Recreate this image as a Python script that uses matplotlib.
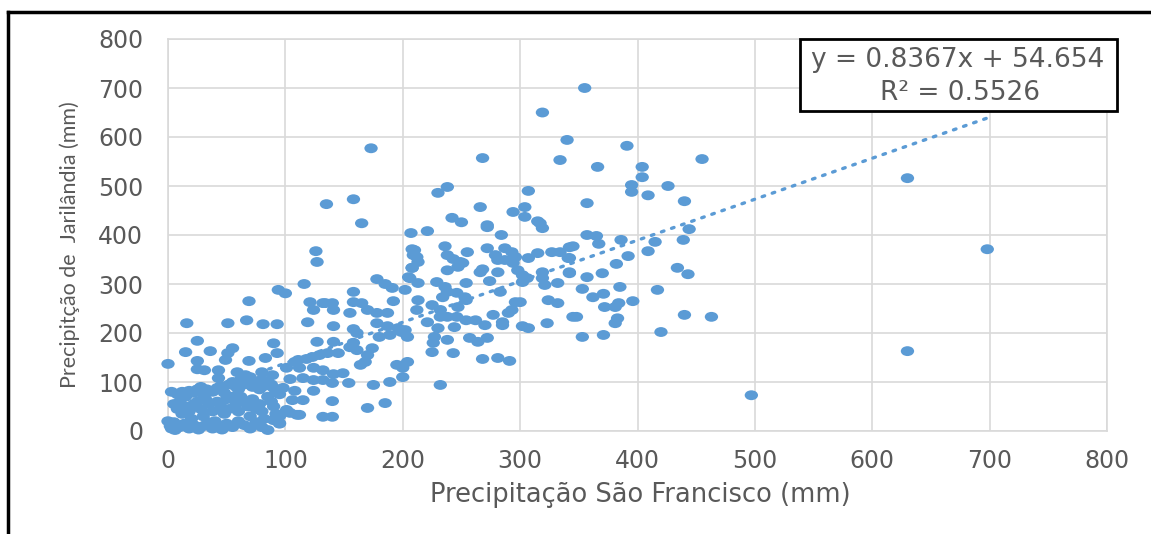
import matplotlib
matplotlib.use("Agg")
import matplotlib.pyplot as plt
from matplotlib.path import Path
from matplotlib.patches import Rectangle
from matplotlib.lines import Line2D
import numpy as np

# ---------------- data ----------------
sao_francisco = [
    # upper points
    355, 319, 340, 173, 268, 391, 455, 366, 404, 334, 404, 426, 395, 395, 409, 440, 357,
    238, 230, 307, 266, 304, 294, 304, 315, 242, 250, 272,
    135, 158, 165, 207, 126, 127, 208, 209, 208, 205, 178, 185, 191, 202, 158, 116, 94, 100,
    69, 121, 134, 140, 158, 165, 192,
    # right outliers
    630, 630, 698, 497,
    # middle band
    221, 272, 284, 317, 319, 210, 212, 213, 236, 238, 243, 249, 251, 255, 272, 279, 287, 293,
    296, 281, 287, 294, 307, 315, 327, 334, 342, 341, 208, 206, 213, 229, 238, 247, 254, 266, 268,
    274, 281, 298, 302, 302, 306, 319, 319, 321, 332, 342, 236, 238, 234, 246, 253, 254, 283,
    296, 300, 324, 332, 213, 212, 225, 232, 247, 246, 232, 238, 221, 230, 244, 254, 262, 270,
    277, 285, 285, 290, 293, 302, 307, 323, 345, 202, 227, 238, 257, 264, 272, 226, 225, 243,
    268, 281, 291, 204, 232,
    # right middle
    357, 365, 345, 367, 386, 415, 444, 439, 409, 392, 382, 342, 342, 357, 370, 434, 443, 353,
    371, 385, 417, 362, 372, 381, 384, 396, 348, 383, 381, 440, 463, 353, 371, 420,
    # 100-200 band
    132, 124, 141, 155, 170, 178, 187, 119, 141, 158, 161, 178, 187, 196, 180, 189, 199, 204,
    127, 141, 158, 161, 174, 170, 168, 164, 155, 145, 136, 129, 123, 118, 111, 108, 101, 112,
    124, 132, 141, 149, 104, 115, 124, 132, 140, 154, 175, 189, 200, 200, 195, 98, 108, 124,
    106, 115, 140, 170, 185, 101, 110, 132, 140, 95, 104, 112,
    # low x, 100-270
    0, 25, 25, 31, 43, 59, 43, 66, 80, 89, 49, 69, 83, 93, 90, 15, 36, 55, 51, 25, 16, 51,
    67, 81, 93,
    # dense cluster
    2, 5, 3, 8, 12, 15, 18, 22, 25, 28, 30, 33, 38, 42, 45, 48, 52, 55, 58, 60, 62, 65, 68,
    70, 72, 75, 78, 80, 82, 85, 88, 90, 92, 95,
    5, 8, 10, 12, 15, 18, 20, 22, 25, 28, 30, 32, 35, 38, 40, 42, 45, 48, 50, 52, 55, 58, 60,
    62, 65, 68, 70, 72, 75, 78, 80, 82, 85, 88, 90, 92, 95,
    0, 3, 6, 10, 14, 18, 22, 26, 30, 34, 38, 42, 46, 50, 55, 60, 65, 70, 75, 80, 85, 90, 95,
]
jarilandia = [
    700, 650, 594, 577, 557, 582, 555, 539, 539, 553, 518, 500, 502, 488, 481, 469, 465,
    498, 486, 490, 457, 457, 447, 437, 428, 435, 426, 420,
    463, 473, 424, 404, 367, 345, 371, 359, 333, 314, 310, 300, 292, 288, 284, 300, 288, 281,
    265, 263, 261, 261, 263, 261, 265,
    516, 163, 371, 73,
    408, 416, 400, 424, 414, 369, 355, 345, 377, 359, 351, 345, 343, 365, 373, 359, 373, 365,
    355, 349, 349, 343, 353, 363, 365, 365, 375, 353, 333, 312, 302, 304, 328, 335, 302, 324,
    330, 306, 324, 328, 318, 304, 312, 324, 312, 298, 302, 322, 294, 284, 273, 282, 273, 267,
    284, 263, 263, 267, 261, 267, 247, 257, 247, 253, 233, 233, 233, 222, 210, 212, 226, 226,
    216, 237, 222, 216, 241, 247, 214, 210, 220, 233, 206, 192, 186, 190, 182, 190, 180, 161,
    159, 147, 149, 143, 141, 94,
    400, 398, 377, 382, 390, 386, 412, 390, 367, 357, 341, 353, 324, 314, 322, 333, 320, 290,
    280, 294, 288, 273, 253, 253, 261, 265, 233, 230, 220, 237, 233, 192, 196, 202,
    261, 247, 247, 241, 247, 241, 241, 222, 214, 208, 200, 220, 214, 210, 192, 196, 202, 192,
    182, 182, 180, 165, 169, 155, 141, 135, 171, 159, 159, 155, 151, 147, 145, 141, 129, 129,
    129, 124, 116, 118, 106, 108, 104, 104, 98, 98, 94, 100, 110, 129, 135, 88, 82, 82,
    63, 63, 61, 47, 57, 43, 33, 29, 29, 16, 37, 33,
    137, 143, 126, 124, 124, 120, 108, 114, 120, 114, 145, 143, 149, 159, 179, 161, 163, 169,
    159, 184, 220, 220, 226, 218, 218,
    10, 18, 80, 75, 80, 70, 82, 78, 85, 90, 75, 85, 80, 88, 92, 78, 95, 100, 90, 85, 105, 95,
    100, 110, 90, 98, 85, 105, 92, 100, 95, 88, 80, 75,
    55, 45, 60, 35, 50, 40, 25, 55, 60, 45, 30, 65, 55, 40, 20, 60, 50, 35, 65, 45, 70, 55,
    40, 70, 60, 50, 30, 65, 45, 55, 40, 25, 70, 60, 50, 35, 30,
    20, 5, 2, 8, 15, 5, 12, 3, 10, 18, 5, 12, 3, 15, 8, 20, 12, 5, 18, 8, 2, 22, 15,
]
slope = 0.8367
intercept = 54.654
r_squared = 0.5526
axis_ticks = [0, 100, 200, 300, 400, 500, 600, 700, 800]

x_label = "Precipitação São Francisco (mm)"
y_label = "Precipitção de  Jarilândia (mm)"
eq_line1 = f"y = {slope}x + {intercept}"
eq_line2 = f"R² = {r_squared}"

# ---------------- figure ----------------
W, H, DPI = 1151, 534, 100
fig = plt.figure(figsize=(W / DPI, H / DPI), dpi=DPI)
fig.patch.set_facecolor("white")

ax = fig.add_axes([168 / W, 1 - 431 / H, (1107 - 168) / W, (431 - 39) / H])
blue = "#5B9BD5"
grid_c = "#D9D9D9"
text_c = "#595959"

ell = Path.unit_circle().transformed(matplotlib.transforms.Affine2D().scale(1.0, 0.74))
ax.scatter(sao_francisco, jarilandia, s=92, marker=ell, color=blue, edgecolors="none",
           zorder=3, clip_on=False)

xs = np.array([min(sao_francisco), max(sao_francisco)])
ax.plot(xs, slope * xs + intercept, linestyle=(0, (0.8, 2.4)), color=blue, lw=2.4,
        dash_capstyle="round", zorder=4)

ax.set_xlim(0, 800)
ax.set_ylim(0, 800)
ax.set_xticks(axis_ticks)
ax.set_yticks(axis_ticks)
ax.grid(True, color=grid_c, lw=1.2, zorder=0)
ax.set_axisbelow(True)
for sp in ax.spines.values():
    sp.set_color(grid_c)
    sp.set_linewidth(1.2)
ax.tick_params(length=0, labelsize=17, labelcolor=text_c)
ax.tick_params(axis="x", pad=13)
ax.tick_params(axis="y", pad=18)

fig.text(640 / W, 1 - 495 / H, x_label, ha="center", va="center", fontsize=18.5, color=text_c)
fig.text(70 / W, 1 - 245 / H, y_label, ha="center", va="center", rotation=90,
         fontsize=15.5, color=text_c, family=["Lato", "DejaVu Sans"])

# equation box
fig.patches.append(Rectangle((800 / W, 1 - 111 / H), (1117 - 800) / W, (111 - 39) / H,
                             transform=fig.transFigure, facecolor="white", edgecolor="black",
                             lw=2, zorder=5))
fig.text(958 / W, 1 - 60 / H, eq_line1, ha="center", va="center", fontsize=19,
         color=text_c, zorder=6)
fig.text(960 / W, 1 - 93 / H, eq_line2, ha="center", va="center", fontsize=19,
         color=text_c, zorder=6)

# outer frame lines
fig.lines.append(Line2D([8 / W, 1.0], [1 - 12 / H, 1 - 12 / H], transform=fig.transFigure,
                        color="black", lw=2.5))
fig.lines.append(Line2D([8 / W, 8 / W], [0, 1 - 12 / H], transform=fig.transFigure,
                        color="black", lw=2.5))

fig.savefig("out.png", dpi=DPI)
